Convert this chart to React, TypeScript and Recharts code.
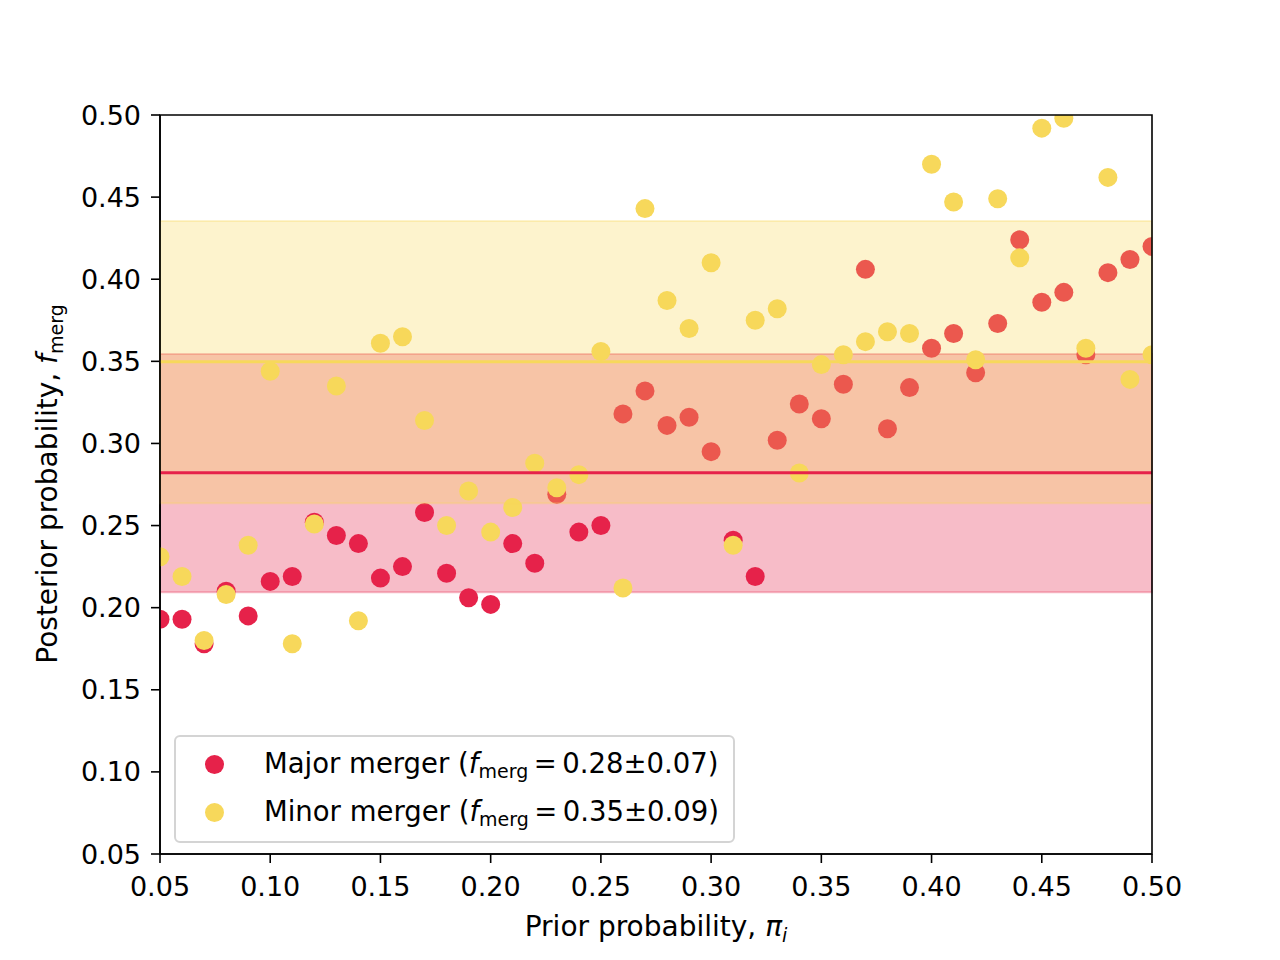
import React from "react";
import {
  ScatterChart,
  Scatter,
  XAxis,
  YAxis,
  ReferenceArea,
  ReferenceLine,
  Legend,
} from "recharts";

// prior probability values (x), one sample per 0.01
const priors = [
  0.05, 0.06, 0.07, 0.08, 0.09, 0.1, 0.11, 0.12, 0.13, 0.14, 0.15, 0.16, 0.17,
  0.18, 0.19, 0.2, 0.21, 0.22, 0.23, 0.24, 0.25, 0.26, 0.27, 0.28, 0.29, 0.3,
  0.31, 0.32, 0.33, 0.34, 0.35, 0.36, 0.37, 0.38, 0.39, 0.4, 0.41, 0.42, 0.43,
  0.44, 0.45, 0.46, 0.47, 0.48, 0.49, 0.5,
];

// posterior f_merg for major mergers
const majorPosterior = [
  0.193, 0.193, 0.178, 0.21, 0.195, 0.216, 0.219, 0.252, 0.244, 0.239, 0.218,
  0.225, 0.258, 0.221, 0.206, 0.202, 0.239, 0.227, 0.269, 0.246, 0.25, 0.318,
  0.332, 0.311, 0.316, 0.295, 0.241, 0.219, 0.302, 0.324, 0.315, 0.336, 0.406,
  0.309, 0.334, 0.358, 0.367, 0.343, 0.373, 0.424, 0.386, 0.392, 0.354, 0.404,
  0.412, 0.42,
];

// posterior f_merg for minor mergers
const minorPosterior = [
  0.231, 0.219, 0.18, 0.208, 0.238, 0.344, 0.178, 0.251, 0.335, 0.192, 0.361,
  0.365, 0.314, 0.25, 0.271, 0.246, 0.261, 0.288, 0.273, 0.281, 0.356, 0.212,
  0.443, 0.387, 0.37, 0.41, 0.238, 0.375, 0.382, 0.282, 0.348, 0.354, 0.362,
  0.368, 0.367, 0.47, 0.447, 0.351, 0.449, 0.413, 0.492, 0.498, 0.358, 0.462,
  0.339, 0.354,
];

// mean and spread of each group
const majorMean = 0.2822;
const majorBand = [0.2094, 0.3545];
const minorMean = 0.3498;
const minorBand = [0.2636, 0.4355];

const ticks = [0.05, 0.1, 0.15, 0.2, 0.25, 0.3, 0.35, 0.4, 0.45, 0.5];

const RED = "#e6224a";
const YELLOW = "#f7d85b";
const FONT = "'DejaVu Sans', sans-serif";

const majorData = priors.map((x, i) => ({ x, y: majorPosterior[i] }));
const minorData = priors.map((x, i) => ({ x, y: minorPosterior[i] }));

const dot = (fill: string) => (props: any) =>
  <circle cx={props.cx} cy={props.cy} r={9.5} fill={fill} />;

const fmt = (v: number) => v.toFixed(2);

function XLabel(props: any) {
  const vb = props.viewBox;
  return (
    <text
      x={vb.x + vb.width / 2}
      y={936}
      textAnchor="middle"
      fontSize={28}
      fontFamily={FONT}
      fill="#000"
    >
      Prior probability,{" "}
      <tspan fontStyle="italic">π</tspan>
      <tspan fontSize={19} dy={6} fontStyle="italic">i</tspan>
    </text>
  );
}

function YLabel() {
  return (
    <text
      transform="translate(57, 484) rotate(-90)"
      textAnchor="middle"
      fontSize={28}
      fontFamily={FONT}
      fill="#000"
    >
      Posterior probability,{" "}
      <tspan fontStyle="italic">f</tspan>
      <tspan fontSize={19} dy={6}>merg</tspan>
    </text>
  );
}

function LegendBox() {
  const row = (color: string, name: string, val: string) => (
    <div style={{ display: "flex", alignItems: "center", height: 48 }}>
      <span
        style={{
          width: 19,
          height: 19,
          borderRadius: "50%",
          background: color,
          marginLeft: 29,
          marginRight: 40,
        }}
      />
      <span style={{ whiteSpace: "nowrap" }}>
        {name} (<i>f</i>
        <sub style={{ fontSize: 19, verticalAlign: -5 }}>merg</sub>
        {"\u2009=\u2009"}
        {val})
      </span>
    </div>
  );
  return (
    <div
      style={{
        width: 557,
        height: 101,
        border: "2px solid #d4d4d4",
        borderRadius: 6,
        background: "rgba(255,255,255,0.8)",
        fontFamily: FONT,
        fontSize: 27.5,
        color: "#000",
        paddingTop: 3,
        boxSizing: "content-box",
      }}
    >
      {row(RED, "Major merger", "0.28±0.07")}
      {row(YELLOW, "Minor merger", "0.35±0.09")}
    </div>
  );
}

export default function App() {
  return (
    <div
      style={{
        position: "absolute",
        left: 0,
        top: 0,
        width: 1280,
        height: 960,
        background: "#fff",
      }}
    >
      <ScatterChart
        width={1280}
        height={960}
        margin={{ top: 115, right: 128, bottom: 0, left: 0 }}
      >
        <XAxis
          type="number"
          dataKey="x"
          domain={[0.05, 0.5]}
          ticks={ticks}
          tickFormatter={fmt}
          allowDataOverflow
          height={106}
          tickSize={9}
          tickMargin={14}
          tick={{ fill: "#000", fontSize: 27, fontFamily: FONT }}
          tickLine={{ stroke: "#000", strokeWidth: 1.6 }}
          axisLine={{ stroke: "#000", strokeWidth: 1.6 }}
          label={<XLabel />}
        />
        <YAxis
          type="number"
          dataKey="y"
          domain={[0.05, 0.5]}
          ticks={ticks}
          tickFormatter={fmt}
          allowDataOverflow
          width={160}
          tickSize={9}
          tickMargin={10}
          tick={{ fill: "#000", fontSize: 27, fontFamily: FONT }}
          tickLine={{ stroke: "#000", strokeWidth: 1.6 }}
          axisLine={{ stroke: "#000", strokeWidth: 1.6 }}
          label={<YLabel />}
        />
        <ReferenceArea
          y1={majorBand[0]}
          y2={majorBand[1]}
          fill={RED}
          fillOpacity={0.3}
          stroke={RED}
          strokeOpacity={0.3}
          strokeWidth={2}
          zIndex={100}
        />
        <Scatter
          name="Major merger"
          data={majorData}
          fill={RED}
          shape={dot(RED)}
          isAnimationActive={false}
        />
        <Scatter
          name="Minor merger"
          data={minorData}
          fill={YELLOW}
          shape={dot(YELLOW)}
          isAnimationActive={false}
        />
        <ReferenceArea
          y1={minorBand[0]}
          y2={minorBand[1]}
          fill={YELLOW}
          fillOpacity={0.3}
          stroke={YELLOW}
          strokeOpacity={0.3}
          strokeWidth={2}
          zIndex={710}
        />
        <ReferenceLine y={majorMean} stroke={RED} strokeWidth={3} zIndex={720} />
        <ReferenceLine y={minorMean} stroke={YELLOW} strokeWidth={3} zIndex={730} />
        <ReferenceArea
          x1={0.05}
          x2={0.5}
          y1={0.05}
          y2={0.5}
          fill="none"
          stroke="#000"
          strokeWidth={1.6}
          zIndex={740}
        />
        <Legend
          layout="vertical"
          align="center"
          verticalAlign="middle"
          wrapperStyle={{ left: 174, top: 735, width: 561 }}
          content={() => <LegendBox />}
        />
      </ScatterChart>
    </div>
  );
}
